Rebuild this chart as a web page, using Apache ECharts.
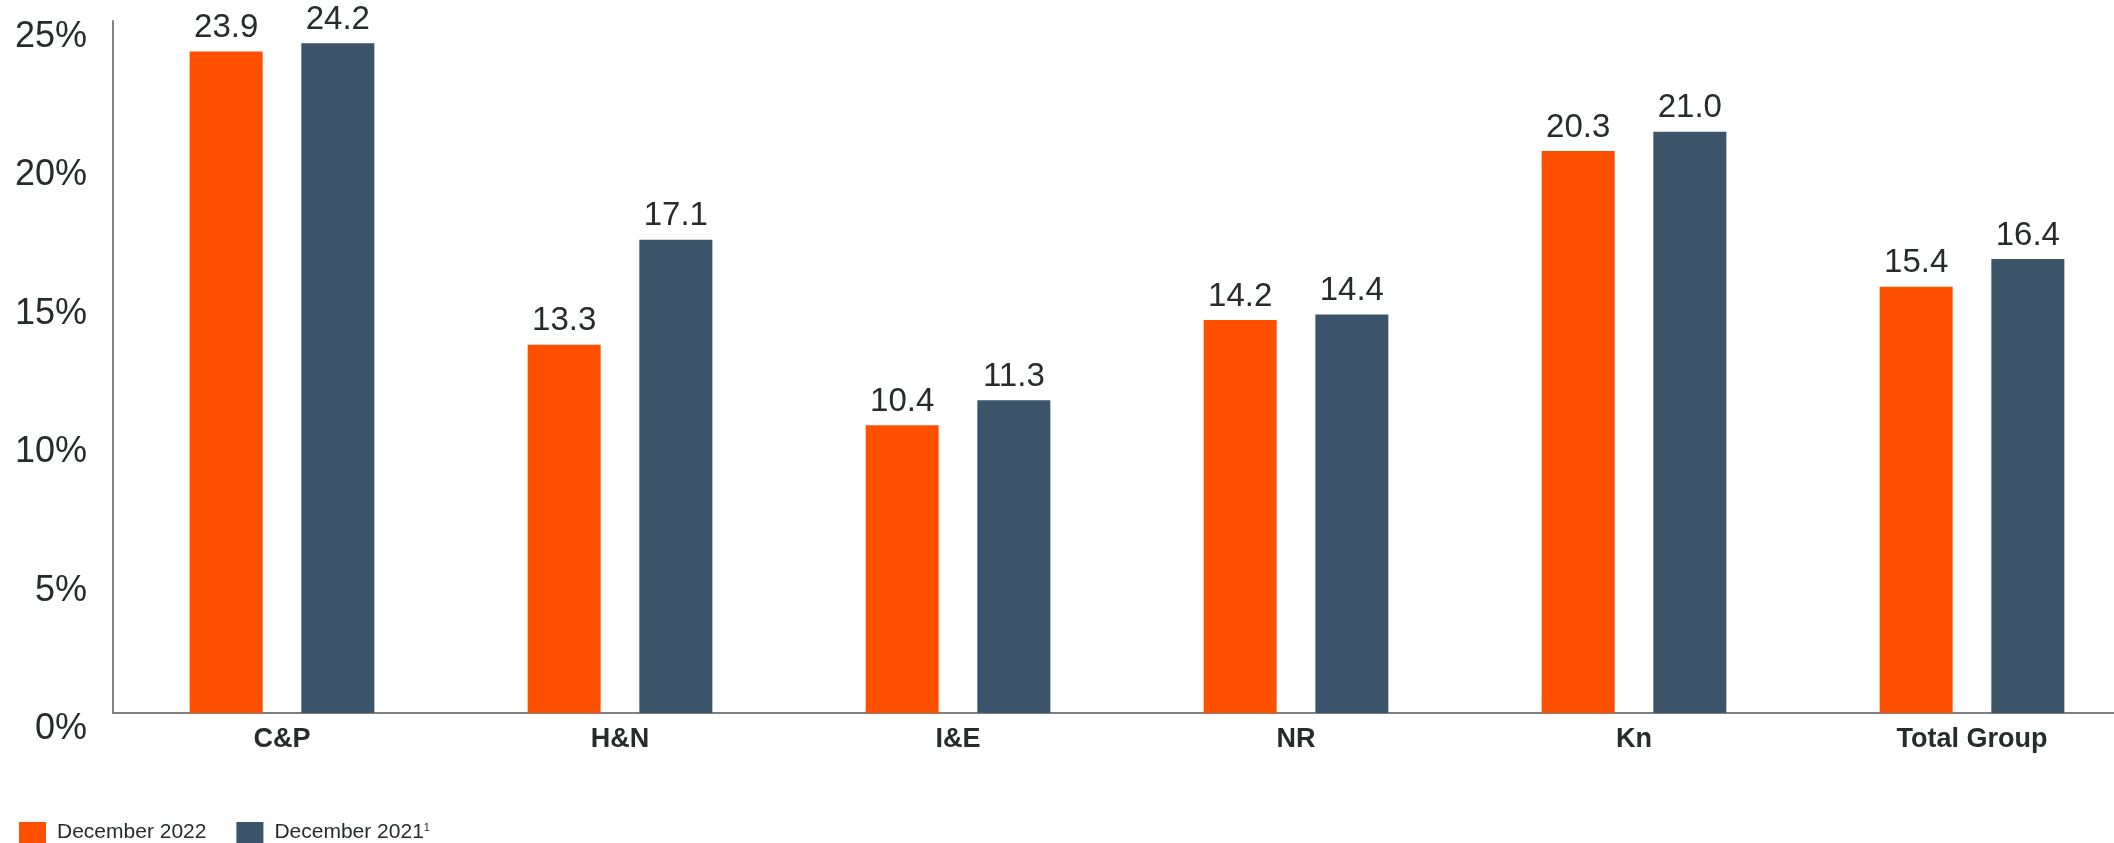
<!DOCTYPE html>
<html>
<head>
<meta charset="utf-8">
<script src="https://cdn.jsdelivr.net/npm/echarts@6/dist/echarts.min.js"></script>
<style>
html,body{margin:0;padding:0;background:#fff;}
#chart{width:2114px;height:843px;}
</style>
</head>
<body>
<div id="chart"></div>
<script>
var categories = ['C&P', 'H&N', 'I&E', 'NR', 'Kn', 'Total Group'];
var dec2022 = [23.9, 13.3, 10.4, 14.2, 20.3, 15.4];
var dec2021 = [24.2, 17.1, 11.3, 14.4, 21.0, 16.4];
var seriesNames = ['December 2022', 'December 2021'];
var yTicks = [0, 5, 10, 15, 20, 25];

var textColor = '#262b2b';
var font = '"Liberation Sans", Arial, sans-serif';

var chart = echarts.init(document.getElementById('chart'), null, {renderer: 'canvas'});
chart.setOption({
  animation: false,
  backgroundColor: '#ffffff',
  grid: {left: 113, width: 2028, top: 21, bottom: 130, containLabel: false, outerBoundsMode: 'none'},
  legend: {
    left: 14, top: 817,
    itemWidth: 27, itemHeight: 21, itemGap: 30,
    icon: 'rect',
    data: seriesNames,
    formatter: function (name) {
      return name === 'December 2021' ? name + '{sup|1}' : name;
    },
    textStyle: {
      fontFamily: font, fontSize: 21, color: textColor, padding: [0, 0, 0, 6],
      rich: {sup: {fontSize: 11, verticalAlign: 'top', padding: [0, 0, 10, 0], fontFamily: font, color: textColor}}
    }
  },
  xAxis: {
    type: 'category',
    data: categories,
    axisLine: {show: true, lineStyle: {color: '#808080', width: 2}},
    axisTick: {show: false},
    axisLabel: {fontFamily: font, fontSize: 27, fontWeight: 'bold', color: textColor, margin: 13, interval: 0}
  },
  yAxis: {
    type: 'value',
    min: 0, max: 25, interval: 5,
    axisLine: {show: true, lineStyle: {color: '#808080', width: 2}},
    axisTick: {show: false},
    splitLine: {show: false},
    axisLabel: {
      fontFamily: font, fontSize: 36, color: textColor, margin: 26,
      verticalAlign: 'top', lineHeight: 32,
      formatter: function (v) { return yTicks.indexOf(v) >= 0 ? v + '%' : ''; }
    }
  },
  series: [
    {
      name: seriesNames[0], type: 'bar', data: dec2022,
      barWidth: 73, barGap: '53%',
      itemStyle: {color: '#FF5000'},
      label: {show: true, position: 'top', distance: 7, fontFamily: font, fontSize: 33, color: textColor,
        formatter: function (p) { return p.value.toFixed(1); }}
    },
    {
      name: seriesNames[1], type: 'bar', data: dec2021,
      barWidth: 73, barGap: '53%',
      itemStyle: {color: '#3B5469'},
      label: {show: true, position: 'top', distance: 7, fontFamily: font, fontSize: 33, color: textColor,
        formatter: function (p) { return p.value.toFixed(1); }}
    }
  ]
});
</script>
</body>
</html>
